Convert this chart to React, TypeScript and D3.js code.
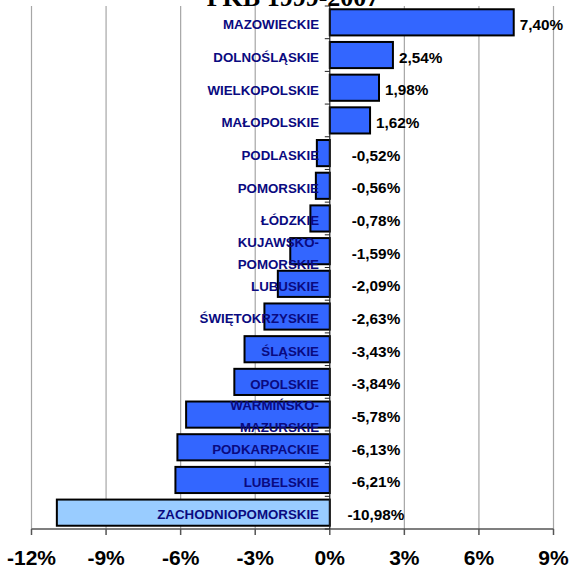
import React from "react";
import * as d3 from "d3";

const categories = [
  "MAZOWIECKIE",
  "DOLNOŚLĄSKIE",
  "WIELKOPOLSKIE",
  "MAŁOPOLSKIE",
  "PODLASKIE",
  "POMORSKIE",
  "ŁÓDZKIE",
  "KUJAWSKO-POMORSKIE",
  "LUBUSKIE",
  "ŚWIĘTOKRZYSKIE",
  "ŚLĄSKIE",
  "OPOLSKIE",
  "WARMIŃSKO-MAZURSKIE",
  "PODKARPACKIE",
  "LUBELSKIE",
  "ZACHODNIOPOMORSKIE",
];
const values = [7.4, 2.54, 1.98, 1.62, -0.52, -0.56, -0.78, -1.59, -2.09, -2.63, -3.43, -3.84, -5.78, -6.13, -6.21, -10.98];
const highlighted = ["ZACHODNIOPOMORSKIE"];
const xTicks = [-12, -9, -6, -3, 0, 3, 6, 9];
const title = "PKB 1999-2007";

const W = 573;
const H = 568;

export default function App() {
  const x = d3.scaleLinear().domain([-12, 9]).range([31.5, 553.5]);
  const y = d3.scaleBand<string>().domain(categories).range([6, 529]).paddingInner(0.2).paddingOuter(0.1);
  const step = y.step();
  const top = 6;
  const bottom = 529;
  const x0 = x(0);
  const fmt = (v: number) => v.toFixed(2).replace(".", ",") + "%";
  const sans = "'Liberation Sans', Arial, sans-serif";

  return (
    <svg width={W} height={H} style={{ position: "absolute", left: 0, top: 0, background: "#fff" }}>
      <rect x={0} y={0} width={W} height={H} fill="#fff" />
      <text x={293} y={6} textAnchor="middle" fontFamily="'Liberation Serif', 'Times New Roman', serif" fontWeight="bold" fontSize={26}>
        {title}
      </text>
      {xTicks.map((t) => (
        <line key={"g" + t} x1={x(t)} x2={x(t)} y1={top} y2={bottom} stroke="#a6a6a6" strokeWidth={1.2} />
      ))}
      <line x1={x(-12)} x2={x(9)} y1={bottom} y2={bottom} stroke="#555" strokeWidth={1.5} />
      {xTicks.map((t) => (
        <line key={"t" + t} x1={x(t)} x2={x(t)} y1={bottom} y2={bottom + 6} stroke="#555" strokeWidth={1.5} />
      ))}
      {xTicks.map((t) => (
        <text key={"l" + t} x={x(t)} y={564.5} textAnchor="middle" fontFamily={sans} fontWeight="bold" fontSize={21}>
          {t + "%"}
        </text>
      ))}
      {categories.map((c, i) => {
        const v = values[i];
        const by = y(c)!;
        return (
          <rect
            key={"b" + c}
            x={x(Math.min(0, v))}
            y={by}
            width={Math.abs(x(v) - x0)}
            height={y.bandwidth()}
            fill={highlighted.includes(c) ? "#99CCFF" : "#3366FF"}
            stroke="#000"
            strokeWidth={2}
          />
        );
      })}
      <line x1={x0} x2={x0} y1={top} y2={bottom} stroke="#222" strokeWidth={1} />
      {d3.range(categories.length + 1).map((k) => (
        <line key={"yt" + k} x1={x0 - 5} x2={x0} y1={top + k * step} y2={top + k * step} stroke="#222" strokeWidth={1} />
      ))}
      {categories.map((c, i) => {
        const cy = y(c)! + y.bandwidth() / 2 + 2;
        const parts = c.includes("-") ? [c.slice(0, c.indexOf("-") + 1), c.slice(c.indexOf("-") + 1)] : [c];
        return (
          <text key={"c" + c} x={319} textAnchor="end" fontFamily={sans} fontWeight="bold" fontSize={13.3} fill="#0a0a80">
            {parts.length === 1 ? (
              <tspan x={319} y={cy + 4.8}>{c}</tspan>
            ) : (
              <>
                <tspan x={319} y={cy - 6.5}>{parts[0]}</tspan>
                <tspan x={319} y={cy + 15.5}>{parts[1]}</tspan>
              </>
            )}
          </text>
        );
      })}
      {categories.map((c, i) => {
        const v = values[i];
        const cy = y(c)! + y.bandwidth() / 2 + 2 + 5.5;
        return v >= 0 ? (
          <text key={"v" + c} x={x(v) + 6} y={cy} fontFamily={sans} fontWeight="bold" fontSize={15.3} fill="#000">
            {fmt(v)}
          </text>
        ) : (
          <text key={"v" + c} x={376} y={cy} textAnchor="middle" fontFamily={sans} fontWeight="bold" fontSize={15.3} fill="#000">
            {fmt(v)}
          </text>
        );
      })}
    </svg>
  );
}
